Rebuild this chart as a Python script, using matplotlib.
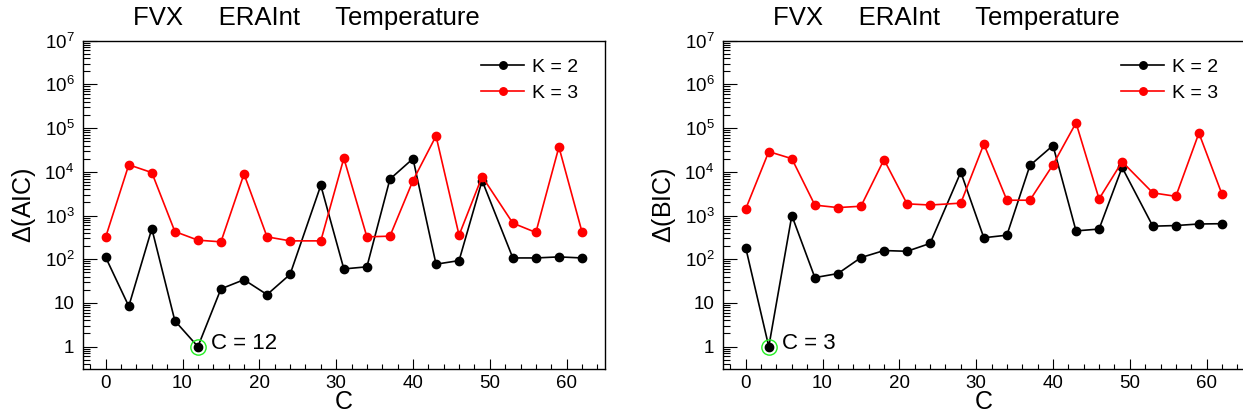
import math
import matplotlib
matplotlib.use("Agg")
import matplotlib.pyplot as plt
from matplotlib.ticker import FixedLocator, LogLocator, MultipleLocator, FuncFormatter

plt.rcParams['font.family'] = ['Liberation Sans', 'DejaVu Sans']
plt.rcParams['mathtext.fontset'] = 'custom'
plt.rcParams['mathtext.rm'] = 'Liberation Sans'
plt.rcParams['mathtext.it'] = 'Liberation Sans:italic'

# number of clusters C
C = [0, 3, 6, 9, 12, 15, 18, 21, 24, 28, 31, 34, 37, 40, 43, 46, 49, 53, 56, 59, 62]

# delta AIC
aic_k2 = [110, 8.4, 500, 3.9, 1, 21, 34, 15.5, 45, 4900, 60,
          67, 6800, 20000, 77, 93, 6300, 107, 107, 113, 107]
aic_k3 = [325, 14500, 9600, 430, 273, 250, 8900, 325, 263, 263, 20500,
          325, 337, 6300, 66000, 355, 7800, 670, 410, 37000, 425]

# delta BIC
bic_k2 = [182, 1, 1000, 38, 47, 109, 158, 152, 230, 9800, 310,
          355, 14000, 40000, 445, 490, 12600, 570, 590, 640, 650]
bic_k3 = [1420, 29000, 20000, 1730, 1520, 1630, 19000, 1850, 1740, 1920, 43000,
          2240, 2240, 14500, 132000, 2400, 17000, 3300, 2750, 77000, 3080]

panels = [("$\\Delta$(AIC)", aic_k2, aic_k3, 12),
          ("$\\Delta$(BIC)", bic_k2, bic_k3, 3)]

W, H = 1243, 416
fig = plt.figure(figsize=(W / 100, H / 100), dpi=100)


def ylab(v, pos):
    if v == 1:
        return "1"
    if v == 10:
        return "10"
    return "$10^{%d}$" % int(round(math.log10(v)))


lefts = [82.7, 722.7]
for i, (name, k2, k3, cbest) in enumerate(panels):
    x0 = lefts[i]
    ax = fig.add_axes([x0 / W, (H - 369.3) / H, 522.3 / W, (369.3 - 40.7) / H])
    ax.plot(C, k2, color='black', marker='o', ms=6, lw=1.2, label='K = 2')
    ax.plot(C, k3, color='red', marker='o', ms=6, lw=1.2, label='K = 3')
    ybest = k2[C.index(cbest)]
    ax.plot([cbest], [ybest], marker='o', ms=11, mfc='none', mec='#22ee22', mew=1.0, ls='none')
    ax.text(cbest + 1.7, ybest * 1.15, "C = %d" % cbest, fontsize=16, va='center', ha='left')

    ax.set_yscale('log')
    ax.set_ylim(0.303, 1e7)
    ax.set_xlim(-3, 65)
    ax.yaxis.set_major_locator(FixedLocator([10.0 ** e for e in range(0, 8)]))
    ax.yaxis.set_minor_locator(LogLocator(base=10, subs=range(2, 10), numticks=20))
    ax.yaxis.set_major_formatter(FuncFormatter(ylab))
    ax.xaxis.set_major_locator(MultipleLocator(10))
    ax.xaxis.set_minor_locator(MultipleLocator(2))
    ax.tick_params(which='both', direction='in', top=False, right=False, labelsize=13.5, width=0.8)
    ax.tick_params(axis='y', which='major', length=10, pad=6)
    ax.tick_params(axis='y', which='minor', length=5)
    ax.tick_params(axis='x', which='major', length=7.5, pad=4)
    ax.tick_params(axis='x', which='minor', length=3.8)
    for s in ax.spines.values():
        s.set_linewidth(1.0)
    ax.set_xlabel("C", fontsize=18, labelpad=-1)
    ax.set_ylabel(name, fontsize=18, labelpad=5)
    ax.legend(loc='upper right', bbox_to_anchor=(0.982, 1.0), frameon=False, fontsize=14,
              handlelength=2.2, handletextpad=0.4, labelspacing=0.45, markerscale=0.9)

    fig.text((x0 + 50.5) / W, 1 - 18 / H, "FVX     ERAInt     Temperature",
             fontsize=18.5, ha='left', va='center')

fig.savefig("out.png", dpi=100)
